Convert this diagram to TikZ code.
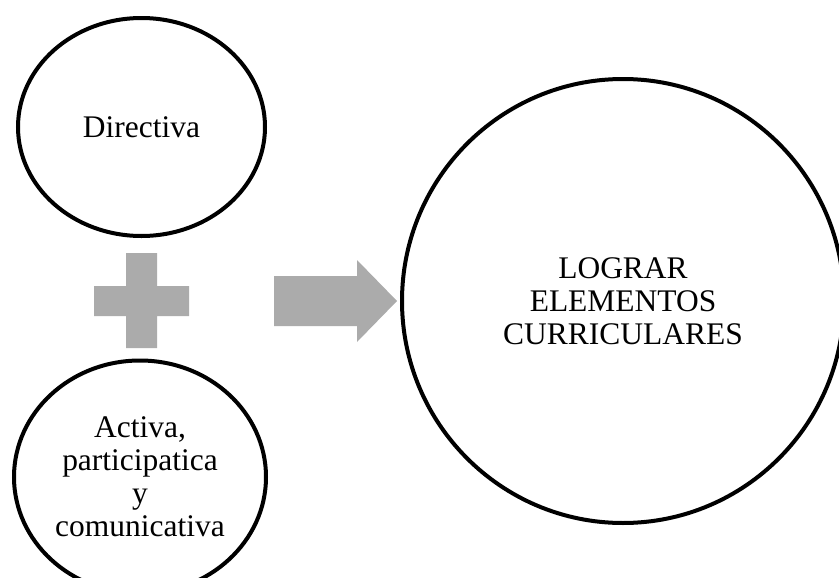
\documentclass[tikz,border=0pt]{standalone}
\usepackage{fontspec}
\setmainfont{Liberation Serif}
\definecolor{shapegray}{RGB}{171, 171, 171}
\usetikzlibrary{shapes.geometric}

\begin{document}
\begin{tikzpicture}[x=0.75pt, y=-0.75pt,
    circ/.style={draw, ellipse, line width=3pt, inner sep=0pt, align=center,
      font=\fontsize{23.6pt}{24.75pt}\selectfont}]
  \useasboundingbox (0,0) rectangle (839,578);

  % Circles
  \node[circ, minimum width=185.25pt, minimum height=163.5pt] (directiva) at (141.5,127) {Directiva};
  \node[circ, minimum width=189pt, minimum height=174.75pt] (activa) at (140,477)
    {Activa,\\ participatica\\ y\\ comunicativa};
  \node[circ, minimum width=331.5pt, minimum height=333pt] (lograr) at (623,301)
    {LOGRAR\\ ELEMENTOS\\ CURRICULARES};

  % Plus sign
  \fill[shapegray] (126,253) -- (157,253) -- (157,286) -- (189,286) -- (189,316) -- (157,316)
    -- (157,348) -- (126,348) -- (126,316) -- (94,316) -- (94,286) -- (126,286) -- cycle;

  % Block arrow
  \fill[shapegray] (274,276) -- (357,276) -- (357,260) -- (397,301) -- (357,342) -- (357,326)
    -- (274,326) -- cycle;
\end{tikzpicture}
\end{document}
